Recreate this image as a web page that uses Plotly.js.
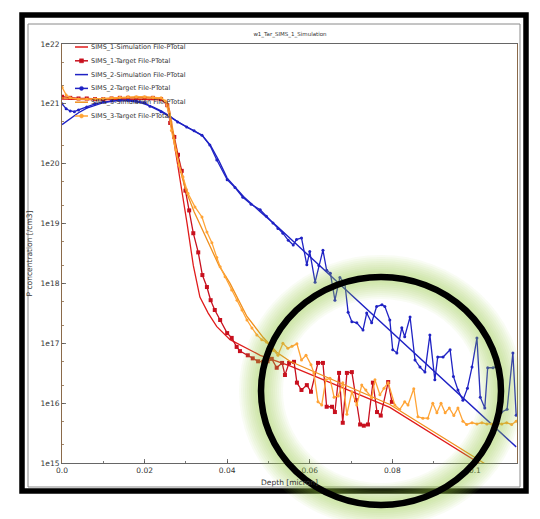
<!DOCTYPE html>
<html><head><meta charset="utf-8">
<script src="https://cdn.plot.ly/plotly-3.0.1.min.js"></script>
<style>html,body{margin:0;padding:0;background:#fff;}</style>
</head><body>
<div id="chart" style="width:540px;height:519px;"></div>
<script>
// ---- data (depth in micron, concentration in /cm3) ----
const seriesNames = ["SIMS_1-Simulation File-PTotal","SIMS_1-Target File-PTotal","SIMS_2-Simulation File-PTotal","SIMS_2-Target File-PTotal","SIMS_3-Simulation File-PTotal","SIMS_3-Target File-PTotal"];

const depth1Sim = [0,0.005,0.010,0.015,0.020,0.024,0.0255,0.026,0.0268,0.028,0.029,0.0303,0.0318,0.0334,0.0354,0.0375,0.0407,0.0448,0.048,0.0552,0.0794,0.101,0.110];
const conc1Sim  = [1.2e21,1.17e21,1.17e21,1.2e21,1.2e21,1.17e21,1.0e21,7.9e20,3.2e20,1.0e20,3.55e19,1.0e19,2.0e18,5.9e17,3.2e17,1.9e17,1.15e17,8.3e16,6.3e16,4.2e16,8.5e15,1.0e15,4.0e14];

const depth1Tar = [0,0.002,0.004,0.006,0.008,0.010,0.012,0.014,0.016,0.018,0.020,0.022,0.024,0.0255,0.0262,0.0272,0.0281,0.029,0.0299,0.0308,0.0318,0.033,0.034,0.0351,0.036,0.037,0.0383,0.040,0.0411,0.0423,0.0431,0.045,0.0462,0.0475,0.0487,0.0498,0.0508,0.052,0.0533,0.054,0.055,0.0562,0.0569,0.058,0.0593,0.0603,0.062,0.0632,0.0641,0.0654,0.0661,0.0671,0.068,0.069,0.0702,0.0712,0.0722,0.0731,0.0741,0.0753,0.0763,0.0772,0.079,0.0799];
const conc1Tar  = [1.32e21,1.26e21,1.23e21,1.23e21,1.2e21,1.2e21,1.23e21,1.26e21,1.26e21,1.26e21,1.26e21,1.26e21,1.2e21,9.5e20,4.8e20,2.8e20,1.41e20,7.6e19,3.55e19,1.66e19,6.9e18,3.3e18,1.38e18,8.7e17,5.25e17,3.6e17,2.45e17,1.48e17,1.23e17,8.7e16,7.4e16,6.3e16,5.6e16,5.0e16,4.9e16,5.0e16,5.5e16,3.9e16,4.7e16,2.95e16,4.7e16,4.9e16,2.2e16,1.66e16,2.0e16,1.55e16,4.7e16,4.7e16,8.7e15,8.7e15,7.1e15,3.2e16,4.7e15,3.2e16,3.3e16,1.12e16,4.4e15,4.2e15,4.4e15,2.2e16,7.1e15,6.2e15,2.25e16,1.05e16];

const depth2Sim = [0,0.002,0.004,0.006,0.008,0.010,0.013,0.016,0.019,0.022,0.024,0.026,0.028,0.030,0.032,0.034,0.036,0.038,0.040,0.042,0.044,0.048,0.052,0.110];
const conc2Sim  = [4.5e20,5.6e20,7.1e20,8.5e20,9.5e20,1.05e21,1.12e21,1.12e21,1.05e21,8.9e20,7.6e20,6.3e20,5.0e20,4.2e20,3.55e20,2.95e20,2.0e20,1.12e20,5.75e19,4.0e19,2.8e19,1.58e19,9.1e18,1.86e15];

const depth2Tar = [0,0.001,0.002,0.003,0.004,0.006,0.008,0.010,0.012,0.014,0.016,0.018,0.020,0.0213,0.024,0.0262,0.028,0.0302,0.032,0.0339,0.0358,0.0375,0.040,0.0419,0.0438,0.0458,0.048,0.0495,0.0511,0.0523,0.0535,0.0548,0.056,0.0568,0.058,0.0593,0.060,0.0613,0.0622,0.0632,0.0641,0.065,0.0661,0.0673,0.0685,0.0693,0.0702,0.0714,0.0729,0.0738,0.075,0.0762,0.0775,0.0782,0.0794,0.0801,0.0811,0.0823,0.083,0.0843,0.0855,0.0867,0.0879,0.0891,0.0903,0.091,0.0923,0.094,0.0948,0.0959,0.0971,0.0982,0.0993,0.1005,0.1013,0.1024,0.1031,0.1044,0.1055,0.1065,0.1078,0.1092,0.110];
const conc2Tar  = [1.0e21,8.3e20,7.6e20,7.4e20,7.9e20,8.9e20,1.0e21,1.07e21,1.12e21,1.15e21,1.15e21,1.12e21,1.05e21,9.1e20,7.4e20,6.0e20,5.0e20,4.1e20,3.55e20,3.0e20,2.05e20,1.15e20,5.4e19,4.0e19,2.75e19,2.1e19,1.7e19,1.32e19,1.02e19,8.3e18,6.9e18,5.25e18,4.4e18,5.4e18,5.75e18,2.05e18,3.4e18,1.05e18,2.0e18,3.6e18,1.66e18,1.48e18,5.25e17,1.26e18,1.0e18,3.3e17,2.3e17,2.2e17,1.66e17,3.2e17,2.2e17,4.1e17,4.4e17,4.1e17,2.45e17,7.8e16,6.9e16,1.82e17,1.29e17,2.75e17,5.25e16,4.0e16,3.3e16,1.38e17,2.45e16,5.9e16,5.9e16,7.8e16,2.8e16,1.66e16,1.12e16,1.78e16,4.0e16,1.23e17,1.26e16,8.3e15,3.9e16,3.9e16,4.2e16,7.1e15,7.9e15,6.9e16,6.3e15];

const depth3Sim = [0,0.005,0.010,0.015,0.020,0.024,0.0255,0.026,0.027,0.028,0.029,0.030,0.032,0.034,0.036,0.038,0.0407,0.0448,0.0487,0.052,0.0552,0.0794,0.101,0.110];
const conc3Sim  = [1.26e21,1.2e21,1.2e21,1.26e21,1.26e21,1.23e21,1.07e21,7.9e20,3.2e20,1.26e20,6.3e19,3.55e19,1.58e19,7.9e18,4.0e18,2.0e18,1.0e18,2.8e17,1.26e17,7.1e16,5.0e16,9.5e15,1.12e15,4.5e14];

const depth3Tar = [0,0.001,0.002,0.004,0.006,0.008,0.010,0.012,0.014,0.016,0.018,0.020,0.022,0.024,0.025,0.026,0.0265,0.0276,0.0283,0.0293,0.0305,0.0322,0.0339,0.0351,0.0363,0.0375,0.0383,0.0395,0.0411,0.0424,0.0436,0.0448,0.046,0.0472,0.0484,0.0495,0.0504,0.0512,0.0523,0.0535,0.0547,0.0557,0.0569,0.058,0.0591,0.0603,0.061,0.062,0.0629,0.0639,0.0649,0.0659,0.0669,0.068,0.069,0.0702,0.0714,0.0726,0.0736,0.075,0.0758,0.077,0.078,0.079,0.0806,0.0818,0.083,0.0838,0.0852,0.0862,0.0874,0.0886,0.0898,0.0908,0.0918,0.0928,0.0938,0.0949,0.0959,0.0971,0.098,0.0993,0.1005,0.1017,0.1029,0.1041,0.1053,0.1065,0.1077,0.1089,0.110];
const conc3Tar  = [1.9e21,1.41e21,1.26e21,1.2e21,1.2e21,1.2e21,1.23e21,1.26e21,1.29e21,1.32e21,1.32e21,1.32e21,1.29e21,1.26e21,1.12e21,6.5e20,3.6e20,1.7e20,9.5e19,6.0e19,3.2e19,1.9e19,1.29e19,7.2e18,4.8e18,2.7e18,1.9e18,1.29e18,7.8e17,5.25e17,3.6e17,2.45e17,1.8e17,1.38e17,1.15e17,1.05e17,8.9e16,7.6e16,6.3e16,1.0e17,8.3e16,8.9e16,9.8e16,5.25e16,6.3e16,4.4e16,3.2e16,1.05e16,9.3e15,2.45e16,2.6e16,1.26e16,1.32e16,2.2e16,6.5e15,1.55e16,9.3e15,2.0e16,1.66e16,1.23e16,2.45e16,1.38e16,1.78e16,2.2e16,9.3e15,7.8e15,1.05e16,9.3e15,1.74e16,5.9e15,5.6e15,5.6e15,1.0e16,6.9e15,1.0e16,6.9e15,8.3e15,6.2e15,8.3e15,5.0e15,4.4e15,4.7e15,4.5e15,4.7e15,4.5e15,4.5e15,4.4e15,4.5e15,4.7e15,4.4e15,5.0e15];

const xTickVals = [0,0.02,0.04,0.06,0.08,0.1];
const xTickText = ["0.0","0.02","0.04","0.06","0.08","0.1"];
const yTickVals = [1e15,1e16,1e17,1e18,1e19,1e20,1e21,1e22];
const yTickText = ["1e15","1e16","1e17","1e18","1e19","1e20","1e21","1e22"];

// ---- styles ----
const RED_SIM = "#e01b1b", RED_TAR = "#c8101e";
const BLUE = "#1f22c4";
const OR_SIM = "#f0901e", OR_TAR = "#ffa436";
const FONT = "DejaVu Sans, sans-serif";

const traces = [
  {x: depth1Sim, y: conc1Sim, mode: "lines", line: {color: RED_SIM, width: 1.3}},
  {x: depth1Tar, y: conc1Tar, mode: "lines+markers", line: {color: RED_TAR, width: 1.3}, marker: {color: RED_TAR, size: 4, symbol: "square"}},
  {x: depth2Sim, y: conc2Sim, mode: "lines", line: {color: BLUE, width: 1.4}},
  {x: depth2Tar, y: conc2Tar, mode: "lines+markers", line: {color: BLUE, width: 1.3}, marker: {color: BLUE, size: 3}},
  {x: depth3Sim, y: conc3Sim, mode: "lines", line: {color: OR_SIM, width: 1.3}},
  {x: depth3Tar, y: conc3Tar, mode: "lines+markers", line: {color: OR_TAR, width: 1.3}, marker: {color: OR_TAR, size: 3}}
].map((t, i) => Object.assign(t, {name: seriesNames[i], showlegend: false, type: "scatter"}));

// plot area in pixels: x 62..517, y 44..463
const PL = 62, PR = 517, PT = 44, PB = 463;
const px = v => (v - PL) / (PR - PL);
const py = v => (PB - v) / (PB - PT);

const shapes = [];
const annotations = [];

// manual legend (matplotlib style, short samples)
const legColors = [RED_SIM, RED_TAR, BLUE, BLUE, OR_SIM, OR_TAR];
const legMarker = [null, "rect", null, "circle", null, "circle"];
seriesNames.forEach((nm, i) => {
  const yy = py(47 + 13.8 * i);
  shapes.push({type: "line", xref: "paper", yref: "paper", x0: px(75), x1: px(88), y0: yy, y1: yy,
    line: {color: legColors[i], width: 1.5}, layer: "above"});
  if (legMarker[i]) {
    shapes.push({type: legMarker[i], xref: "paper", yref: "paper", xsizemode: "pixel", ysizemode: "pixel",
      xanchor: px(81.5), yanchor: yy, x0: -2, x1: 2, y0: -2, y1: 2,
      fillcolor: legColors[i], line: {color: legColors[i], width: 0.5}, layer: "above"});
  }
  annotations.push({xref: "paper", yref: "paper", x: px(89), y: yy, xanchor: "left", yanchor: "middle",
    text: nm, showarrow: false, font: {family: FONT, size: 6.5, color: "#333"}});
});

// inner light frame
shapes.push({type: "rect", xref: "paper", yref: "paper", x0: px(28), x1: px(520), y0: py(487), y1: py(24),
  line: {color: "#8a8a8a", width: 1}, layer: "above"});
// outer black frame
shapes.push({type: "rect", xref: "paper", yref: "paper", x0: px(22), x1: px(526), y0: py(491), y1: py(15),
  line: {color: "#000", width: 5.5}, layer: "above"});

// highlight ellipse with soft green glow
const E = {x0: px(261), x1: px(501), y0: py(505), y1: py(277)};
[44, 40, 36, 32, 28, 24, 20, 16, 12].forEach(w => {
  shapes.push(Object.assign({type: "circle", xref: "paper", yref: "paper",
    line: {color: "rgba(150,210,70,0.06)", width: w}, layer: "above"}, E));
});
shapes.push(Object.assign({type: "circle", xref: "paper", yref: "paper",
  line: {color: "#000", width: 6.5}, layer: "above"}, E));

const layout = {
  width: 540, height: 519,
  margin: {l: PL, r: 540 - PR, t: PT, b: 519 - PB, pad: 0},
  paper_bgcolor: "#fff", plot_bgcolor: "#fff",
  font: {family: FONT, size: 7.5, color: "#333"},
  showlegend: false,
  title: {text: "w1_Tar_SIMS_1_Simulation", font: {family: FONT, size: 5.5, color: "#333"},
    x: px(290), xref: "paper", y: 1 - 34 / 519, yref: "container", xanchor: "center", yanchor: "middle"},
  xaxis: {
    range: [0, 0.1102], type: "linear",
    tickmode: "array", tickvals: xTickVals, ticktext: xTickText,
    ticks: "inside", ticklen: 4, tickcolor: "#555", tickwidth: 0.8,
    minor: {ticks: "inside", ticklen: 2, dtick: 0.01, tick0: 0, tickcolor: "#555", showgrid: false},
    showgrid: false, zeroline: false,
    showline: true, linecolor: "#666", linewidth: 1, mirror: true,
    tickfont: {family: FONT, size: 7.5, color: "#333"},
    title: {text: "Depth [micron]", font: {family: FONT, size: 7.5, color: "#333"}, standoff: 5}
  },
  yaxis: {
    type: "log", range: [15, 22],
    tickmode: "array", tickvals: yTickVals, ticktext: yTickText,
    ticks: "inside", ticklen: 4, tickcolor: "#555", tickwidth: 0.8,
    minor: {ticks: "inside", ticklen: 2, tickcolor: "#8a6a4a", showgrid: false},
    showgrid: false, zeroline: false,
    showline: true, linecolor: "#8a6a4a", linewidth: 1, mirror: true,
    tickfont: {family: FONT, size: 7.5, color: "#333"},
    title: {text: "P concentration [/cm3]", font: {family: FONT, size: 7.5, color: "#333"}, standoff: 6}
  },
  shapes: shapes,
  annotations: annotations
};

Plotly.newPlot("chart", traces, layout, {staticPlot: true, displayModeBar: false});
</script>
</body></html>
